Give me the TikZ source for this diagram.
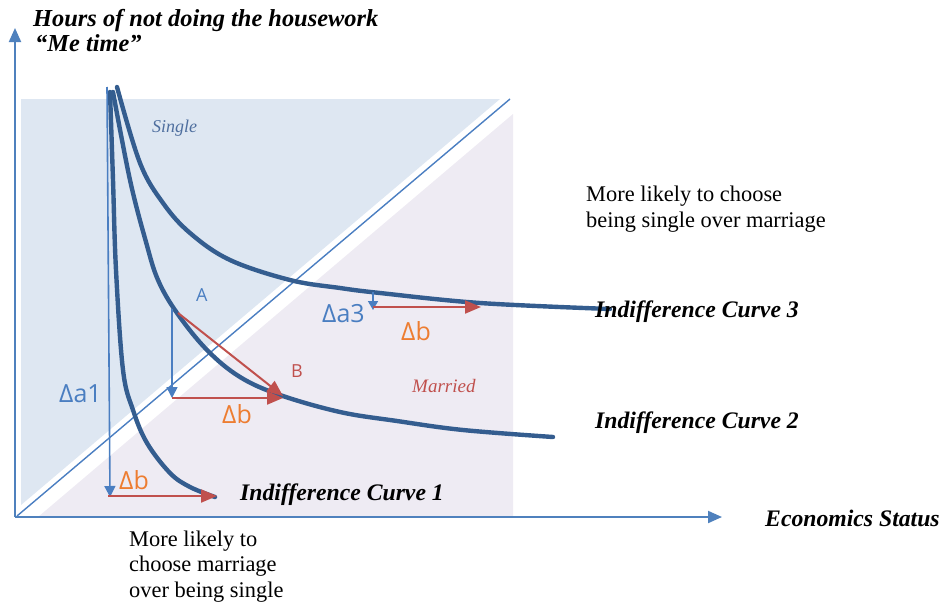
\documentclass[tikz,border=0pt]{standalone}
\usepackage{fontspec}
\setmainfont{Liberation Serif}
\newfontfamily\lblfont{Open Sans}
\usetikzlibrary{arrows.meta}
\definecolor{singlefill}{RGB}{222,231,242}
\definecolor{marriedfill}{RGB}{238,235,243}
\definecolor{curveblue}{RGB}{52,93,143}
\definecolor{thinblue}{RGB}{74,126,193}
\definecolor{axisblue}{RGB}{79,129,189}
\definecolor{arrred}{RGB}{192,80,77}
\definecolor{lblorange}{RGB}{237,125,49}
\definecolor{singletxt}{RGB}{79,111,159}
\definecolor{marriedtxt}{RGB}{192,80,77}
\tikzset{
  axisline/.style={draw=axisblue, line width=2pt, -{Triangle[length=14pt,width=12pt]}},
  icurve/.style={draw=curveblue, line width=4.4pt, line cap=round},
  dropa/.style={draw=thinblue, line width=1.6pt, -{Triangle[length=11pt,width=11pt]}},
  shiftb/.style={draw=arrred, line width=2pt, -{Triangle[length=16pt,width=13pt]}},
  serifnote/.style={anchor=base west, inner sep=0pt, font=\fontsize{22.4}{25.5}\selectfont, align=left},
  curvelbl/.style={anchor=base west, inner sep=0pt, font=\fontsize{23.7}{26}\selectfont\itshape\bfseries},
  sanslbl/.style={anchor=base west, inner sep=0pt, font=\lblfont\fontsize{25}{26}\selectfont},
  letterlbl/.style={anchor=base west, inner sep=0pt, font=\lblfont\fontsize{18}{20}\selectfont},
}
\begin{document}
\begin{tikzpicture}[x=1pt,y=-1pt]
\useasboundingbox (0,0) rectangle (947,605);
% regions
\fill[singlefill] (21,99) -- (500,99) -- (21,505) -- cycle;
\fill[marriedfill] (513,114) -- (513,517) -- (38,517) -- cycle;
\draw[thinblue, line width=1.4pt] (17,516) -- (510,99);
% axes
\coordinate (O) at (15,517);
\coordinate (Ytop) at (15,28);
\coordinate (Xend) at (722,517);
\draw[axisline] (O) -- (Ytop);
\draw[axisline] (O) -- (Xend);
% curves
\draw[icurve] plot[smooth, tension=0.6] coordinates {(110,92) (113,180) (116,270) (123,370) (133,410) (147,443) (170,473) (190,487) (215,497)};
\draw[icurve] plot[smooth, tension=0.6] coordinates {(113,92) (130,180) (146,242) (158,280) (177,313) (207,350) (240,377) (280,395) (340,412) (397,421) (463,430) (553,437)};
\draw[icurve] plot[smooth, tension=0.6] coordinates {(117,87) (140,163) (163,203) (190,233) (230,260) (290,280) (340,288) (380,293) (480,303) (610,309)};
% arrows curve 1
\coordinate (a1top) at (107,87);
\coordinate (a1bot) at (110,497);
\coordinate (b1start) at (108,496);
\coordinate (b1end) at (217,496);
\draw[dropa] (a1top) -- (a1bot);
\draw[shiftb] (b1start) -- (b1end);
% arrows curve 2
\coordinate (A) at (172,309);
\coordinate (Abot) at (172,398);
\coordinate (Bh) at (283,398);
\coordinate (Astart) at (178,313);
\coordinate (B) at (283,396);
\draw[dropa] (A) -- (Abot);
\draw[shiftb] (Abot) -- (Bh);
\draw[shiftb] (Astart) -- (B);
% arrows curve 3
\coordinate (a3top) at (373,292);
\coordinate (a3bot) at (373,310);
\coordinate (b3start) at (373,307);
\coordinate (b3end) at (481,307);
\draw[dropa, -{Triangle[length=9pt,width=10pt]}] (a3top) -- (a3bot);
\draw[shiftb] (b3start) -- (b3end);
% labels
\node[anchor=base west, inner sep=0pt, font=\fontsize{24.4}{26}\selectfont\bfseries\itshape] (ttl1) at (33,27) {Hours of not doing the housework};
\node[anchor=base west, inner sep=0pt, font=\fontsize{24.4}{26}\selectfont\bfseries\itshape] (ttl2) at (35,51) {“Me time”};
\node[anchor=base west, inner sep=0pt, font=\fontsize{18}{20}\selectfont\itshape, text=singletxt] (single) at (152,132) {Single};
\node[anchor=base west, inner sep=0pt, font=\fontsize{19}{20}\selectfont\itshape, text=marriedtxt] (married) at (412,392) {Married};
\node[curvelbl] (ic3) at (595,317) {Indifference Curve 3};
\node[curvelbl] (ic2) at (595,428) {Indifference Curve 2};
\node[curvelbl] (ic1) at (240,500) {Indifference Curve 1};
\node[curvelbl] (xlab) at (765,526) {Economics Status};
\node[serifnote] (note1) at (586,227) {More likely to choose\\being single over marriage};
\node[serifnote] (note2) at (129,597) {More likely to\\choose marriage\\over being single};
\node[sanslbl, text=thinblue] (da1) at (59,402) {Δa1};
\node[sanslbl, text=lblorange] (db1) at (119,489) {Δb};
\node[letterlbl, text=thinblue] (lA) at (196,301) {A};
\node[letterlbl, text=arrred] (lB) at (291,377) {B};
\node[sanslbl, text=lblorange] (db2) at (222,423) {Δb};
\node[sanslbl, text=thinblue] (da3) at (322,322) {Δa3};
\node[sanslbl, text=lblorange] (db3) at (401,340) {Δb};
\end{tikzpicture}
\end{document}
